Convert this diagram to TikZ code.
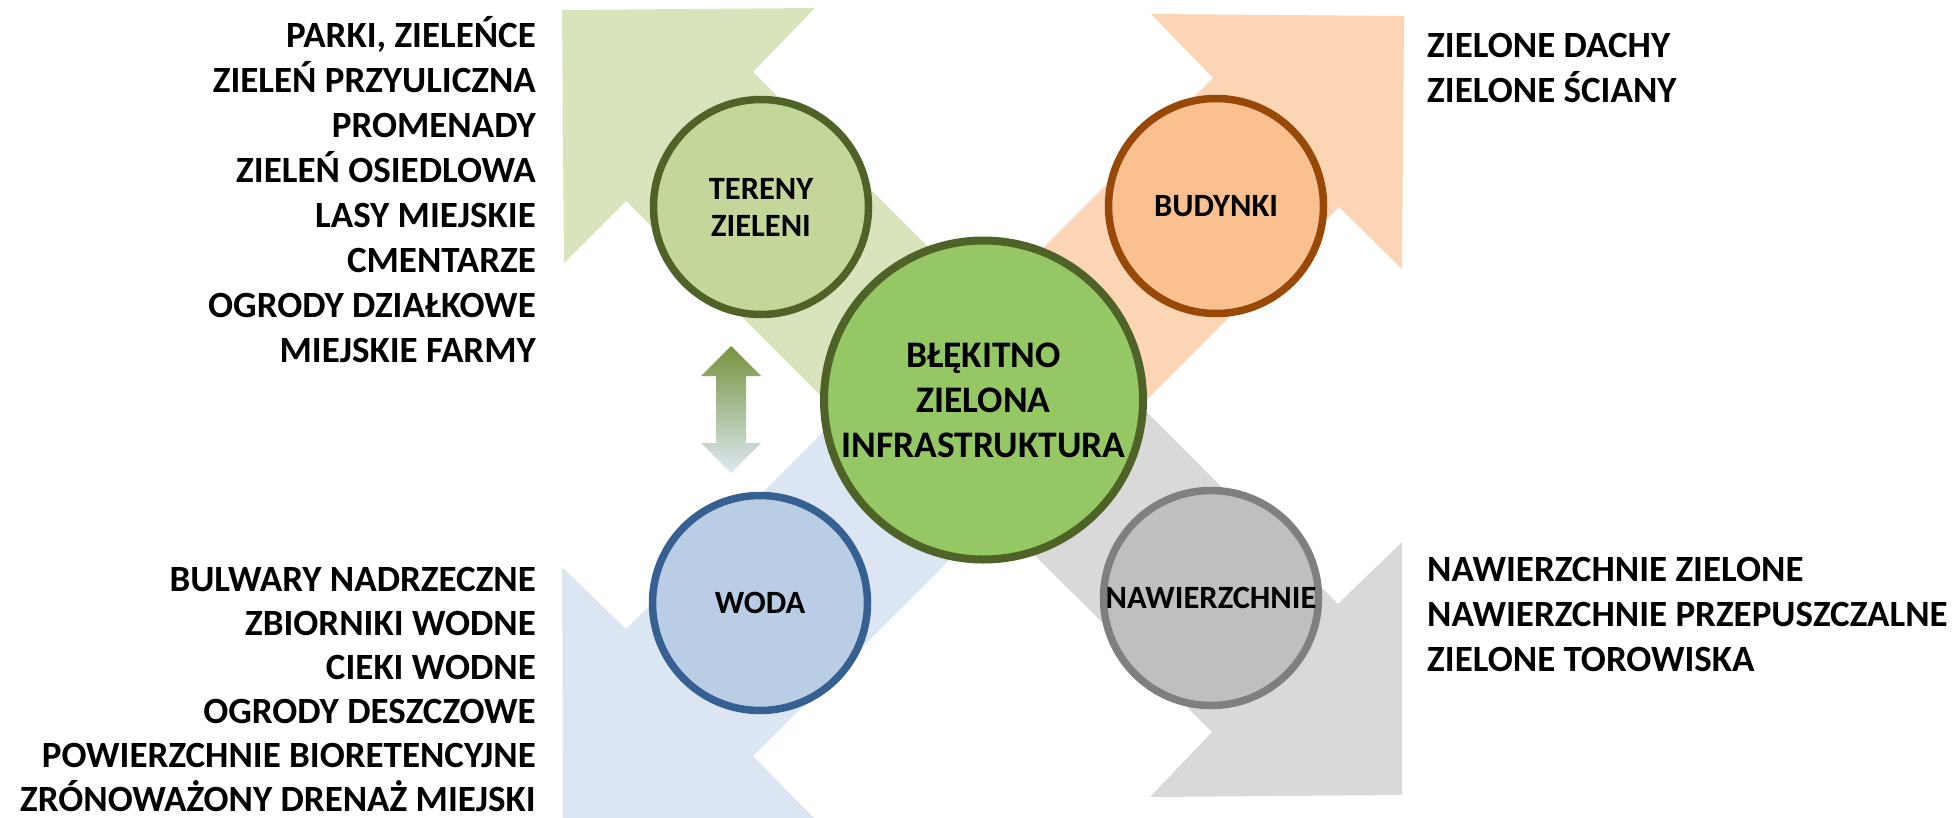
\documentclass[tikz,border=0pt]{standalone}
\usepackage{fontspec}
\setmainfont{Carlito}
\definecolor{gArrow}{HTML}{D8E4BC}
\definecolor{gFill}{HTML}{C4D79B}
\definecolor{gLine}{HTML}{4F6228}
\definecolor{hubFill}{HTML}{95C864}
\definecolor{oArrow}{HTML}{FCD5B5}
\definecolor{oFill}{HTML}{FAC090}
\definecolor{oLine}{HTML}{984807}
\definecolor{bArrow}{HTML}{DCE6F2}
\definecolor{bFill}{HTML}{B9CDE5}
\definecolor{bLine}{HTML}{376092}
\definecolor{kArrow}{HTML}{D9D9D9}
\definecolor{kFill}{HTML}{BFBFBF}
\definecolor{kLine}{HTML}{7F7F7F}
\definecolor{linkTop}{HTML}{77933C}
\definecolor{linkMid}{HTML}{C5D3EE}
\definecolor{linkBot}{HTML}{DFE8F4}
\begin{document}
\begin{tikzpicture}[x=1pt,y=-1pt,
  hub/.style={circle, draw=gLine, line width=8pt, fill=hubFill, minimum size=319pt,
    inner sep=0pt, align=center, font=\bfseries\fontsize{37.5}{45}\selectfont},
  topic/.style={circle, line width=7.5pt, minimum size=215pt, inner sep=0pt,
    align=center, font=\bfseries\fontsize{32.5}{37}\selectfont},
  side/.style={inner sep=0pt, font=\bfseries\fontsize{37}{45}\selectfont}]
\useasboundingbox (0,0) rectangle (1956,817);
\fill[white] (0,0) rectangle (1956,817);

% broad block arrows radiating from the hub
\fill[gArrow] (562,10) -- (815,8) -- (753,72) -- (1032,351) -- (904,479)
  -- (626,201) -- (564,263) -- cycle;
\fill[oArrow] (1404,16) -- (1151,14) -- (1213,78) -- (937,354) -- (1065,482)
  -- (1339,207) -- (1402,269) -- cycle;
\fill[bArrow] (562,567) -- (626,629) -- (919,336) -- (1047,463) -- (753,756)
  -- (816,820) -- (563,820) -- cycle;
\fill[kArrow] (1402,542) -- (1338,604) -- (1059,324) -- (931,452) -- (1212,732)
  -- (1150,797) -- (1402,795) -- cycle;

% two-way link between green areas and water
\shade[top color=linkTop, middle color=linkMid, bottom color=linkBot]
  (731,346) -- (761,376) -- (746,376) -- (746,443) -- (761,443) -- (731,473)
  -- (701,443) -- (716,443) -- (716,376) -- (701,376) -- cycle;

% circles
\node[hub] (hub) at (983.5,400) {BŁĘKITNO\\ZIELONA\\INFRASTRUKTURA};
\node[topic, draw=gLine, fill=gFill] (tereny) at (761,207) {TERENY\\ZIELENI};
\node[topic, draw=oLine, fill=oFill] (budynki) at (1216,206) {BUDYNKI};
\node[topic, draw=bLine, fill=bFill] (woda) at (760,603) {WODA};
\node[topic, draw=kLine, fill=kFill] (nawierzchnie) at (1211,598) {NAWIERZCHNIE};

% green areas
\node[side, anchor=base east] (g1) at (536,47)  {PARKI, ZIELEŃCE};
\node[side, anchor=base east] (g2) at (536,92)  {ZIELEŃ PRZYULICZNA};
\node[side, anchor=base east] (g3) at (536,137) {PROMENADY};
\node[side, anchor=base east] (g4) at (536,182) {ZIELEŃ OSIEDLOWA};
\node[side, anchor=base east] (g5) at (536,227) {LASY MIEJSKIE};
\node[side, anchor=base east] (g6) at (536,272) {CMENTARZE};
\node[side, anchor=base east] (g7) at (536,317) {OGRODY DZIAŁKOWE};
\node[side, anchor=base east] (g8) at (536,362) {MIEJSKIE FARMY};

% water
\node[side, anchor=base east] (w1) at (536,591) {BULWARY NADRZECZNE};
\node[side, anchor=base east] (w2) at (536,635) {ZBIORNIKI WODNE};
\node[side, anchor=base east] (w3) at (536,679) {CIEKI WODNE};
\node[side, anchor=base east] (w4) at (536,723) {OGRODY DESZCZOWE};
\node[side, anchor=base east] (w5) at (536,767) {POWIERZCHNIE BIORETENCYJNE};
\node[side, anchor=base east] (w6) at (536,811) {ZRÓNOWAŻONY DRENAŻ MIEJSKI};

% buildings
\node[side, anchor=base west] (b1) at (1427,57)  {ZIELONE DACHY};
\node[side, anchor=base west] (b2) at (1427,102) {ZIELONE ŚCIANY};

% surfaces
\node[side, anchor=base west] (s1) at (1427,581) {NAWIERZCHNIE ZIELONE};
\node[side, anchor=base west] (s2) at (1427,626) {NAWIERZCHNIE PRZEPUSZCZALNE};
\node[side, anchor=base west] (s3) at (1427,671) {ZIELONE TOROWISKA};
\end{tikzpicture}
\end{document}
